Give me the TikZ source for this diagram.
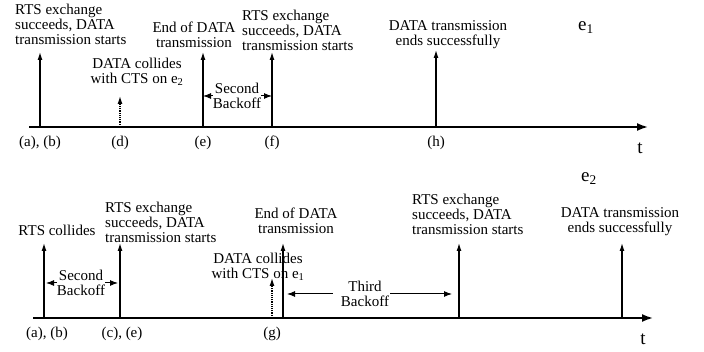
\documentclass[tikz,border=0pt]{standalone}
\usepackage{fontspec}
\setmainfont{Liberation Serif}
\usetikzlibrary{arrows.meta,positioning}
\tikzset{
  axis/.style    = {line width=1.8pt, -{Latex[length=11pt,width=8pt]}},
  event/.style   = {line width=1.2pt, -{Latex[length=8pt,width=5pt]}},
  collide/.style = {event, densely dotted},
  gap/.style     = {line width=1pt, -{Latex[length=8pt,width=6pt]}},
  label/.style   = {inner sep=0pt, align=center, font=\fontsize{15}{15}\selectfont},
  tick/.style    = {inner sep=0pt, font=\fontsize{15}{15}\selectfont},
  chan/.style    = {inner sep=0pt, font=\fontsize{19}{19}\selectfont}
}
\newcommand\lnk[1]{e\textsubscript{#1}}

\begin{document}
\begin{tikzpicture}[x=1pt,y=-1pt]
\useasboundingbox (0,0) rectangle (704,352);

% time axis of channel e1
\coordinate (start1) at (29,127);
\coordinate (stop1) at (648,127);
\draw[axis] (start1) -- (stop1);
\node[chan, anchor=base west] (ch1) at (578,31) {\lnk{1}};
\node[chan, anchor=base] (t1) at (640,154) {t};

% events on e1
\foreach \n/\x/\y in {ab/40/52, e/203/52, f/272/52, h/436/50}
{
  \coordinate (\n1) at (\x,127);
  \coordinate (\n1 tip) at (\x,\y);
  \draw[event] (\n1) -- (\n1 tip);
}
\coordinate (d1) at (120,127);
\coordinate (d1 tip) at (120,96);
\draw[collide] (d1) -- (d1 tip);

\node[tick, below=8.5pt of ab1] (lab ab1) {(a), (b)};
\node[tick, below=8.5pt of d1] (lab d1) {(d)};
\node[tick, below=8.5pt of e1] (lab e1) {(e)};
\node[tick, below=8.5pt of f1] (lab f1) {(f)};
\node[tick, below=8.5pt of h1] (lab h1) {(h)};

\node[label, align=left, anchor=west] (rts1) at (15,24)
  {RTS exchange\\succeeds, DATA\\transmission starts};
\node[label] (col1) at (137,72) {DATA collides\\with CTS on \lnk{2}};
\node[label] (end1) at (194,35) {End of DATA\\transmission};
\node[label, align=left, anchor=west] (rts2) at (242,30)
  {RTS exchange\\succeeds, DATA\\transmission starts};
\node[label] (done1) at (448,35) {DATA transmission\\ends successfully};

% second backoff on e1
\node[label] (back1) at (237,96) {Second\\Backoff};
\draw[gap] (back1.west) -- (back1.west -| e1);
\draw[gap] (back1.east) -- (back1.east -| f1);

% time axis of channel e2
\coordinate (start2) at (33,318);
\coordinate (stop2) at (653,318);
\draw[axis] (start2) -- (stop2);
\node[chan, anchor=base west] (ch2) at (581,182) {\lnk{2}};
\node[chan, anchor=base] (t2) at (643,345) {t};

% events on e2
\foreach \n/\x in {ab/44, ce/120, end/283, rts/459, ok/622}
{
  \coordinate (\n2) at (\x,318);
  \coordinate (\n2 tip) at (\x,243);
  \draw[event] (\n2) -- (\n2 tip);
}
\coordinate (g2) at (272,318);
\coordinate (g2 tip) at (272,278);
\draw[collide] (g2) -- (g2 tip);

\node[tick, below=8.5pt of ab2, xshift=3pt] (lab ab2) {(a), (b)};
\node[tick, below=8.5pt of ce2, xshift=2pt] (lab ce2) {(c), (e)};
\node[tick, below=8.5pt of g2] (lab g2) {(g)};

\node[label] (coll2) at (57,230) {RTS collides};
\node[label, align=left, anchor=west] (rts3) at (105,222)
  {RTS exchange\\succeeds, DATA\\transmission starts};
\node[label] (col2) at (258,267) {DATA collides\\with CTS on \lnk{1}};
\node[label] (end2l) at (296,221) {End of DATA\\transmission};
\node[label, align=left, anchor=west] (rts4) at (412,214)
  {RTS exchange\\succeeds, DATA\\transmission starts};
\node[label] (done2) at (620,222) {DATA transmission\\ends successfully};

% backoffs on e2
\node[label] (back2) at (81,283) {Second\\Backoff};
\draw[gap, shorten >=2pt] (back2.west) -- (back2.west -| ab2);
\draw[gap, shorten >=2pt] (back2.east) -- (back2.east -| ce2);

\node[label] (back3) at (365,294) {Third\\Backoff};
\draw[gap, shorten <=8pt, shorten >=4pt] (back3.west) -- (back3.west -| end2);
\draw[gap, shorten <=1pt, shorten >=7pt] (back3.east) -- (back3.east -| rts2);
\end{tikzpicture}
\end{document}
